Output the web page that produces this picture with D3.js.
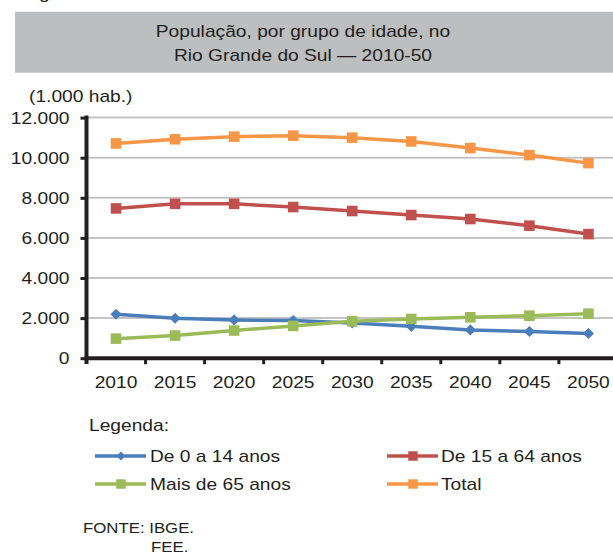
<!DOCTYPE html>
<html>
<head>
<meta charset="utf-8">
<script src="https://cdn.jsdelivr.net/npm/d3@7"></script>
<style>
  html, body { margin: 0; padding: 0; background: #fff; }
  svg { display: block; font-family: "Liberation Sans", Arial, Helvetica, sans-serif; }
</style>
</head>
<body>
<svg id="chart" width="613" height="552"></svg>
<script>
// ---- data ----
const years = ["2010","2015","2020","2025","2030","2035","2040","2045","2050"];
const age0to14 = [2190, 1990, 1910, 1875, 1760, 1590, 1410, 1330, 1230];
const age15to64 = [7470, 7700, 7700, 7540, 7340, 7140, 6940, 6610, 6190];
const age65plus = [975, 1130, 1380, 1610, 1840, 1960, 2040, 2120, 2220];
const total = [10710, 10920, 11050, 11100, 11000, 10810, 10480, 10130, 9730];
const seriesNames = ["De 0 a 14 anos", "De 15 a 64 anos", "Mais de 65 anos", "Total"];
const yTicks = [0, 2000, 4000, 6000, 8000, 10000, 12000];
const titleLines = ["População, por grupo de idade, no", "Rio Grande do Sul — 2010-50"];

const colors = ["#4a7ebb", "#c0504d", "#9bbb59", "#f79646"];
const symbols = ["diamond", "square", "square", "square"];
const seriesValues = [age0to14, age15to64, age65plus, total];

const svg = d3.select("#chart");
const ink = "#231f20";
const SX = 1.2;

function txt(g, x, y, s, size, anchor) {
  return g.append("text")
    .attr("transform", `translate(${x},${y}) scale(${SX},1)`)
    .attr("font-size", size)
    .attr("fill", ink)
    .attr("text-anchor", anchor || "start")
    .text(s);
}

svg.append("rect").attr("width", 613).attr("height", 552).attr("fill", "#fff");

// cut-off caption at top (only descenders visible, as in the reference)
txt(svg, 23, -0.8, "Figura 1", 16);

// title box
svg.append("rect").attr("x", 15).attr("y", 11.7).attr("width", 600).attr("height", 61).attr("fill", "#bdbec0");
titleLines.forEach((t, i) => txt(svg, 303, 37.3 + i * 23.4, t, 16, "middle"));

txt(svg, 29, 102, "(1.000 hab.)", 16);

// scales
const x = d3.scaleBand().domain(years).range([86.5, 86.5 + 9 * 59.05]).paddingInner(0).paddingOuter(0);
const y = d3.scaleLinear().domain([0, 12000]).range([358.2, 117.6]);
const cx = d => x(d) + x.bandwidth() / 2;

const fmt = d3.formatLocale({ decimal: ",", thousands: ".", grouping: [3], currency: ["", ""] }).format(",");

// gridlines
svg.append("g").selectAll("line").data(yTicks.filter(d => d > 0)).join("line")
  .attr("x1", 86).attr("x2", 613)
  .attr("y1", d => y(d)).attr("y2", d => y(d))
  .attr("stroke", "#c4c4c4").attr("stroke-width", 2);

// series
const line = d3.line().x((d, i) => cx(years[i])).y(d => y(d));
seriesValues.forEach((vals, s) => {
  const g = svg.append("g");
  g.append("path").datum(vals).attr("d", line)
    .attr("fill", "none").attr("stroke", colors[s]).attr("stroke-width", 3.5)
    .attr("stroke-linejoin", "round");
  const sym = symbols[s] === "diamond"
    ? d3.symbol(d3.symbolSquare, 62)
    : d3.symbol(d3.symbolSquare, 112);
  g.selectAll("path.m").data(vals).join("path").attr("class", "m")
    .attr("d", sym)
    .attr("transform", (d, i) => `translate(${cx(years[i])},${y(d)})` + (symbols[s] === "diamond" ? " rotate(45)" : ""))
    .attr("fill", colors[s]);
});

// y axis
const yAxis = d3.axisLeft(y).tickValues(yTicks).tickSize(6).tickSizeOuter(0).tickFormat("");
const ya = svg.append("g").attr("transform", "translate(86.5,0)").call(yAxis);
ya.select(".domain").attr("stroke", ink).attr("stroke-width", 4).attr("d", `M0,${y(12000) - 2}V364`);
ya.selectAll(".tick line").attr("stroke", ink).attr("stroke-width", 3);
yTicks.forEach(v => txt(svg, 69.5, y(v) + 6, fmt(v), 16, "end"));

// x axis
const xAxis = d3.axisBottom(x).tickSize(0).tickFormat("");
const xa = svg.append("g").attr("transform", `translate(0,${y(0)})`).call(xAxis);
xa.select(".domain").attr("stroke", ink).attr("stroke-width", 4).attr("d", "M84.5,0H613");
xa.selectAll(".tick").remove();
svg.append("g").selectAll("line").data(years.slice(1)).join("line")
  .attr("x1", d => x(d)).attr("x2", d => x(d))
  .attr("y1", y(0)).attr("y2", y(0) + 6)
  .attr("stroke", ink).attr("stroke-width", 3);
years.forEach(yr => txt(svg, cx(yr), 388.3, yr, 16, "middle"));

// legend
txt(svg, 89, 430.7, "Legenda:", 16);
const legPos = [
  { lx: 95, ly: 456, tx: 150, ty: 462 },
  { lx: 387, ly: 456, tx: 441, ty: 462 },
  { lx: 95, ly: 484, tx: 150, ty: 490 },
  { lx: 387, ly: 484, tx: 441, ty: 490 }
];
seriesNames.forEach((name, s) => {
  const p = legPos[s];
  const g = svg.append("g");
  g.append("line").attr("x1", p.lx).attr("x2", p.lx + 51).attr("y1", p.ly).attr("y2", p.ly)
    .attr("stroke", colors[s]).attr("stroke-width", 3.5);
  const sym = symbols[s] === "diamond" ? d3.symbol(d3.symbolSquare, 40) : d3.symbol(d3.symbolSquare, 90);
  g.append("path").attr("d", sym)
    .attr("transform", `translate(${p.lx + 26},${p.ly})` + (symbols[s] === "diamond" ? " rotate(45)" : ""))
    .attr("fill", colors[s]);
  txt(g, p.tx, p.ty, name, 16);
});

// source
txt(svg, 83, 533.3, "FONTE: IBGE.", 14);
txt(svg, 151, 551.8, "FEE.", 14);
</script>
</body>
</html>
